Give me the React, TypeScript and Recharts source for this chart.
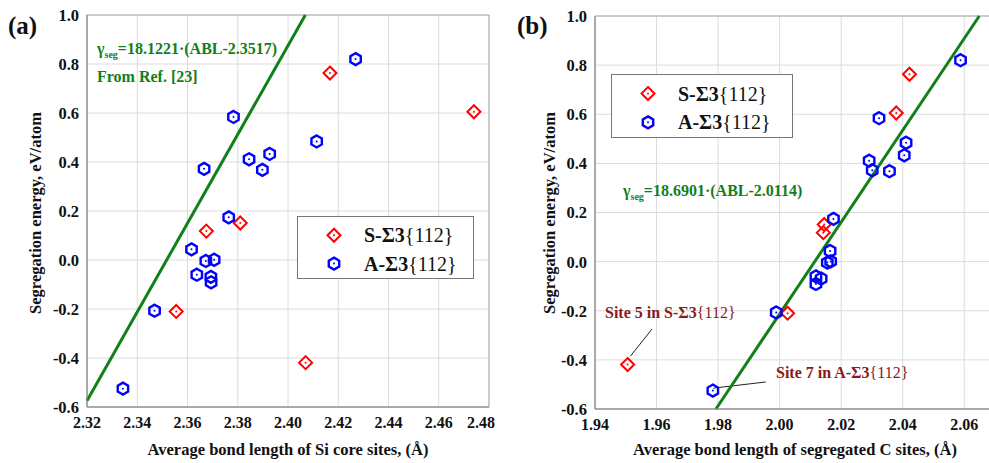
import { FC } from 'react'
import { CartesianGrid, ReferenceArea, ReferenceLine, Scatter, ScatterChart, XAxis, YAxis } from 'recharts'

// segregation energies (eV/atom), shared by both panels
const energyS = [0.763, 0.605, 0.151, 0.118, -0.21, -0.419]
const energyA = [0.82, 0.584, 0.484, 0.433, 0.411, 0.372, 0.368, 0.174, 0.0435, -0.004, 0.001, -0.06, -0.069, -0.091, -0.207, -0.525]

// (a) average bond length of Si core sites
const siS = [2.4167, 2.474, 2.381, 2.3675, 2.3555, 2.407]
const siA = [2.4269, 2.3783, 2.4114, 2.3927, 2.3845, 2.3666, 2.3898, 2.3764, 2.3616, 2.3673, 2.3706, 2.3637, 2.3693, 2.3694, 2.3469, 2.3343]

// (b) average bond length of segregated C sites
const cS = [2.0422, 2.0379, 2.0145, 2.0142, 2.0026, 1.9506]
const cA = [2.0588, 2.0323, 2.0411, 2.0405, 2.0291, 2.0301, 2.0357, 2.0175, 2.0164, 2.0155, 2.0166, 2.0118, 2.0135, 2.0118, 1.9989, 1.9783]

const ticksY = [-0.6, -0.4, -0.2, 0.0, 0.2, 0.4, 0.6, 0.8, 1.0]
const ticksXa = [2.32, 2.34, 2.36, 2.38, 2.40, 2.42, 2.44, 2.46, 2.48]
const ticksXb = [1.94, 1.96, 1.98, 2.00, 2.02, 2.04, 2.06]

// fitted lines, endpoints at the plot frame
const fitA = [{ x: 2.32, y: -0.5745 }, { x: 2.4069, y: 1.0 }]
const fitB = [{ x: 1.9793, y: -0.6 }, { x: 2.0649, y: 1.0 }]

// leader lines of the notes in (b)
const leader5 = [{ x: 1.9585, y: -0.275 }, { x: 1.9515, y: -0.385 }]
const leader7 = [{ x: 1.9955, y: -0.49 }, { x: 1.9785, y: -0.515 }]

const toPts = (xs: number[], ys: number[]) => xs.map((x, i) => ({ x, y: ys[i] }))

const RED = '#ff0000'
const BLUE = '#0000ff'
const GREEN = '#12801a'
const NOTE = '#8b1a1a'
const FONT = '"Liberation Serif", "Times New Roman", serif'

const Diamond = (props: any) => {
    const { cx, cy } = props
    const r = 6.5
    return (
        <g>
            <path d={`M${cx},${cy - r}L${cx + r},${cy}L${cx},${cy + r}L${cx - r},${cy}Z`} fill="none" stroke={RED} strokeWidth={2} />
            <circle cx={cx} cy={cy} r={1} fill={RED} />
        </g>
    )
}

const Hexagon = (props: any) => {
    const { cx, cy } = props
    const r = 6
    const pts = [0, 1, 2, 3, 4, 5].map(k => {
        const a = Math.PI / 3 * k - Math.PI / 2
        return `${cx + r * Math.cos(a)},${cy + r * Math.sin(a)}`
    }).join(' ')
    return (
        <g>
            <polygon points={pts} fill="none" stroke={BLUE} strokeWidth={2.4} />
            <circle cx={cx} cy={cy} r={1} fill={BLUE} />
        </g>
    )
}

const LegendBox: FC<{ left: number, top: number, width: number, height: number }> = ({ left, top, width, height }) => (
    <div style={{ position: 'absolute', left, top, width, height, border: '1.5px solid #777', background: '#fff', boxSizing: 'border-box' }}>
        <svg width={width - 3} height={height - 3} fontFamily={FONT} fontSize={20}>
            <Diamond cx={36} cy={height * 0.29} />
            <text x={66} y={height * 0.29 + 7} fill="#111"><tspan fontWeight="bold">S-Σ3</tspan>{'{112}'}</text>
            <Hexagon cx={36} cy={height * 0.74} />
            <text x={66} y={height * 0.74 + 7} fill="#111"><tspan fontWeight="bold">A-Σ3</tspan>{'{112}'}</text>
        </svg>
    </div>
)

const XTick = (props: any) => (
    <text x={props.x} y={props.y} dy="0.75em" textAnchor="middle" fontFamily={FONT} fontSize={16} fontWeight="bold" fill="#111">
        {Number(props.payload.value).toFixed(2)}
    </text>
)

const YTick = (props: any) => (
    <text x={props.x} y={props.y} dy="0.36em" textAnchor="end" fontFamily={FONT} fontSize={16.5} fontWeight="bold" fill="#111">
        {Number(props.payload.value).toFixed(1)}
    </text>
)

const App: FC = () => {
    return (
        <div style={{ position: 'absolute', left: 0, top: 0, width: 989, height: 463, overflow: 'hidden', background: '#fff', fontFamily: FONT }}>
            {/* panel (a) */}
            <div style={{ position: 'absolute', left: 0, top: 0 }}>
                <ScatterChart width={495} height={463} margin={{ top: 15, right: 6, left: 0, bottom: 0 }}>
                    <CartesianGrid stroke="#dcdcdc" />
                    <XAxis type="number" dataKey="x" domain={[2.32, 2.48]} ticks={ticksXa}
                        height={56} tickSize={0} tickMargin={9} tick={XTick} stroke="#888" allowDataOverflow />
                    <YAxis type="number" dataKey="y" domain={[-0.6, 1.0]} ticks={ticksY}
                        width={87} tickSize={0} tickMargin={8} tick={YTick} stroke="#888" allowDataOverflow />
                    <ReferenceArea x1={2.32} x2={2.48} y1={-0.6} y2={1.0} fill="none" stroke="#aaa" strokeWidth={1} />
                    <ReferenceLine segment={fitA} stroke={GREEN} strokeWidth={3} />
                    <Scatter name="S-Σ3{112}" data={toPts(siS, energyS)} shape={Diamond} isAnimationActive={false} />
                    <Scatter name="A-Σ3{112}" data={toPts(siA, energyA)} shape={Hexagon} isAnimationActive={false} />
                </ScatterChart>
            </div>

            {/* panel (b) */}
            <div style={{ position: 'absolute', left: 495, top: 0 }}>
                <ScatterChart width={500} height={463} margin={{ top: 16, right: 0, left: 0, bottom: 0 }}>
                    <CartesianGrid stroke="#dcdcdc" />
                    <XAxis type="number" dataKey="x" domain={[1.94, 2.07]} ticks={ticksXb}
                        height={54} tickSize={0} tickMargin={9} tick={XTick} stroke="#888" allowDataOverflow />
                    <YAxis type="number" dataKey="y" domain={[-0.6, 1.0]} ticks={ticksY}
                        width={100} tickSize={0} tickMargin={8} tick={YTick} stroke="#888" allowDataOverflow />
                    <ReferenceArea x1={1.94} x2={2.07} y1={-0.6} y2={1.0} fill="none" stroke="#aaa" strokeWidth={1} />
                    <ReferenceLine segment={leader5} stroke="#222" strokeWidth={1} />
                    <ReferenceLine segment={leader7} stroke="#222" strokeWidth={1} />
                    <ReferenceLine segment={fitB} stroke={GREEN} strokeWidth={3} />
                    <Scatter name="S-Σ3{112}" data={toPts(cS, energyS)} shape={Diamond} isAnimationActive={false} />
                    <Scatter name="A-Σ3{112}" data={toPts(cA, energyA)} shape={Hexagon} isAnimationActive={false} />
                </ScatterChart>
            </div>

            <LegendBox left={297} top={216} width={177} height={63} />
            <LegendBox left={611} top={74} width={182} height={64} />

            {/* titles and notes */}
            <svg width={989} height={463} style={{ position: 'absolute', left: 0, top: 0, pointerEvents: 'none' }}
                fontFamily={FONT} fontWeight="bold">
                <text x={8} y={34} fontSize={25} fill="#111">(a)</text>
                <text x={517} y={34} fontSize={25} fill="#111">(b)</text>

                <text x={288} y={455} fontSize={16.5} textAnchor="middle" fill="#111">Average bond length of Si core sites, (Å)</text>
                <text x={795} y={455} fontSize={16.5} textAnchor="middle" fill="#111">Average bond length of segregated C sites, (Å)</text>
                <text transform="translate(41,213) rotate(-90)" fontSize={16.5} textAnchor="middle" fill="#111">Segregation energy, eV/atom</text>
                <text transform="translate(555,213) rotate(-90)" fontSize={16.5} textAnchor="middle" fill="#111">Segregation energy, eV/atom</text>

                <text x={97} y={54} fontSize={16} fill={GREEN}>γ<tspan fontSize={10} dy={4}>seg</tspan><tspan dy={-4}>=18.1221·(ABL-2.3517)</tspan></text>
                <text x={97} y={82} fontSize={16} fill={GREEN}>From Ref. [23]</text>

                <text x={623} y={196} fontSize={16} fill={GREEN}>γ<tspan fontSize={10} dy={4}>seg</tspan><tspan dy={-4}>=18.6901·(ABL-2.0114)</tspan></text>
                <text x={605} y={318} fontSize={16} fill={NOTE}>Site 5 in S-Σ3<tspan fontWeight="normal">{'{112}'}</tspan></text>
                <text x={776} y={378} fontSize={16} fill={NOTE}>Site 7 in A-Σ3<tspan fontWeight="normal">{'{112}'}</tspan></text>
            </svg>
        </div>
    )
}

export default App
